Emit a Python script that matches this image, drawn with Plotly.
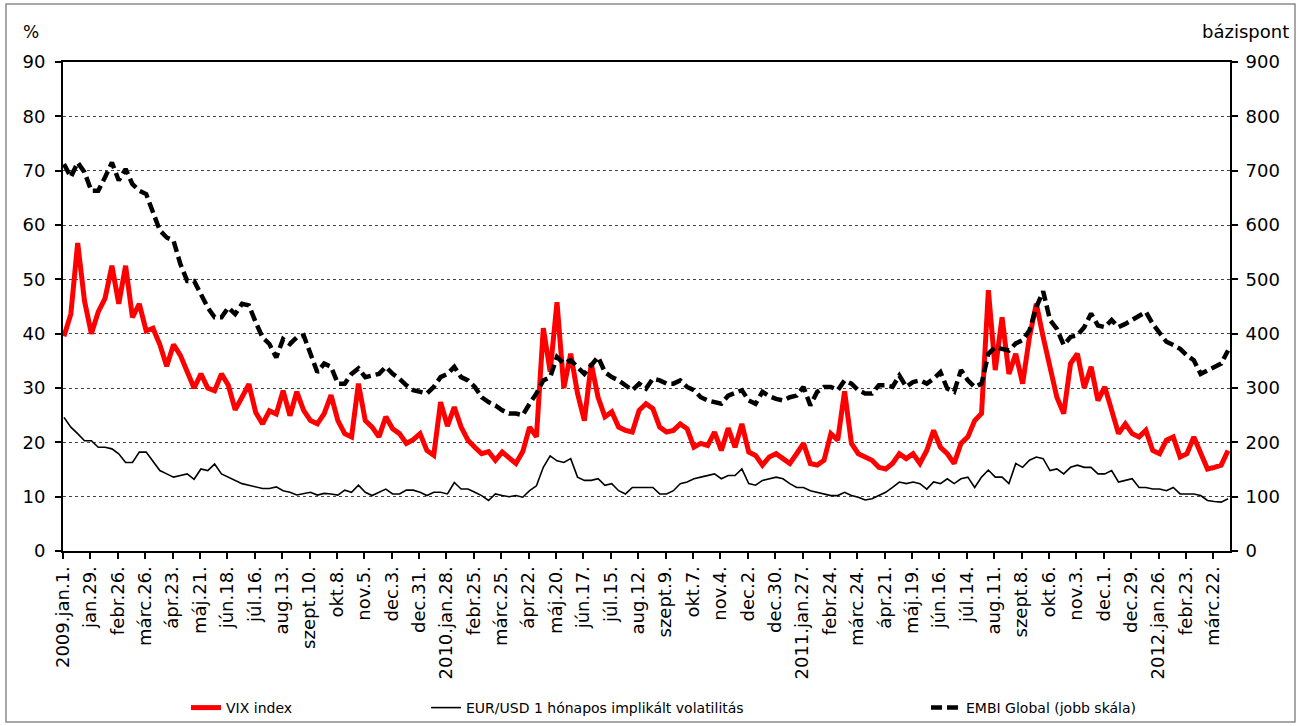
import pandas as pd
import plotly.graph_objects as go

# Weekly observations (Fridays), starting 2009-01-02
start_date = "2009-01-02"

vix_index = [
    39.5, 43.6, 56.7, 46.0, 40.0, 44.0, 46.5, 52.5, 45.5, 52.5,
    43.0, 45.5, 40.5, 41.0, 38.0, 34.0, 38.0, 36.0, 33.0, 30.0,
    32.6, 30.0, 29.5, 32.6, 30.5, 26.0, 28.3, 30.7, 25.5, 23.4,
    25.8, 25.2, 29.5, 24.9, 29.3, 25.9, 24.0, 23.4, 25.3, 28.7,
    24.0, 21.6, 21.0, 30.8, 24.0, 22.8, 21.0, 24.7, 22.5, 21.6,
    19.8, 20.5, 21.6, 18.5, 17.6, 27.4, 23.0, 26.5, 22.8, 20.4,
    19.1, 17.9, 18.3, 16.7, 18.2, 17.0, 16.1, 18.3, 22.8, 21.0,
    41.0, 33.0, 45.8, 30.0, 36.3, 29.0, 24.0, 34.5, 28.3, 24.7,
    25.6, 22.8, 22.2, 21.9, 25.9, 27.1, 26.2, 22.8, 21.9, 22.2,
    23.4, 22.5, 19.1, 19.8, 19.4, 21.9, 18.5, 22.6, 19.1, 23.4,
    18.2, 17.6, 15.8, 17.3, 17.9, 17.0, 16.1, 17.9, 19.8, 16.1,
    15.8, 16.7, 21.6, 20.4, 29.4, 19.8, 17.9, 17.3, 16.7, 15.4,
    15.1, 16.1, 17.9, 17.0, 17.9, 16.1, 18.5, 22.2, 19.1, 17.9,
    16.1, 19.8, 21.0, 24.0, 25.3, 48.0, 33.3, 43.0, 32.6, 36.3,
    30.8, 39.4, 45.5, 39.4, 33.3, 28.3, 25.3, 34.5, 36.3, 30.0,
    33.9, 27.7, 30.2, 25.9, 21.6, 23.4, 21.6, 21.0, 22.2, 18.5,
    17.9, 20.4, 21.0, 17.3, 17.9, 21.0, 17.9, 15.1, 15.4, 15.8,
    18.5,
]

eurusd_implied_vol = [
    24.6, 22.8, 21.6, 20.3, 20.3, 19.1, 19.1, 18.8, 17.9, 16.3,
    16.3, 18.2, 18.2, 16.6, 14.8, 14.2, 13.6, 13.9, 14.2, 13.2,
    15.1, 14.8, 16.0, 14.2, 13.6, 13.0, 12.4, 12.1, 11.8, 11.5,
    11.5, 11.8, 11.1, 10.8, 10.3, 10.5, 10.8, 10.3, 10.6, 10.5,
    10.3, 11.2, 10.8, 12.1, 10.8, 10.2, 10.8, 11.4, 10.5, 10.5,
    11.2, 11.2, 10.8, 10.2, 10.8, 10.8, 10.5, 12.6, 11.4, 11.4,
    10.8, 10.2, 9.3, 10.5, 10.2, 10.0, 10.2, 9.9, 11.1, 12.0,
    15.4, 17.5, 16.6, 16.3, 17.0, 13.6, 13.0, 13.0, 13.3, 12.1,
    12.4, 11.1, 10.5, 11.7, 11.7, 11.7, 11.7, 10.5, 10.5, 11.1,
    12.4, 12.7, 13.3, 13.6, 13.9, 14.2, 13.3, 13.9, 13.9, 15.1,
    12.4, 12.1, 13.0, 13.3, 13.6, 13.3, 12.4, 11.7, 11.7, 11.1,
    10.8, 10.5, 10.2, 10.2, 10.8, 10.2, 9.9, 9.4, 9.6, 10.2,
    10.8, 11.7, 12.7, 12.4, 12.7, 12.4, 11.4, 12.7, 12.4, 13.3,
    12.4, 13.3, 13.6, 11.7, 13.6, 14.9, 13.6, 13.6, 12.4, 16.1,
    15.4, 16.7, 17.3, 17.0, 14.8, 15.1, 14.2, 15.4, 15.8, 15.4,
    15.4, 14.2, 14.2, 14.8, 12.7, 13.0, 13.3, 11.7, 11.7, 11.4,
    11.4, 11.1, 11.7, 10.5, 10.5, 10.5, 10.2, 9.3, 9.1, 9.0,
    9.6,
]

embi_global_bp = [
    712, 688, 715, 697, 663, 663, 688, 715, 682, 703,
    675, 663, 657, 626, 590, 577, 571, 528, 497, 497,
    473, 448, 430, 430, 448, 436, 455, 452, 421, 393,
    381, 356, 390, 381, 393, 397, 363, 329, 345, 339,
    308, 308, 326, 336, 320, 323, 326, 339, 326, 317,
    305, 296, 293, 290, 302, 320, 326, 339, 320, 314,
    302, 283, 274, 268, 259, 253, 253, 250, 271, 290,
    314, 320, 357, 345, 351, 339, 326, 342, 357, 329,
    320, 314, 305, 296, 308, 299, 317, 314, 308, 308,
    314, 302, 296, 283, 277, 274, 271, 286, 290, 296,
    277, 271, 293, 285, 280, 277, 283, 286, 302, 268,
    293, 302, 302, 296, 314, 308, 296, 290, 290, 305,
    305, 302, 323, 302, 311, 314, 308, 317, 329, 299,
    293, 333, 314, 302, 308, 363, 375, 372, 369, 382,
    388, 406, 449, 478, 425, 409, 379, 394, 397, 412,
    437, 415, 412, 425, 412, 418, 425, 434, 440, 418,
    400, 385, 379, 372, 360, 351, 326, 333, 339, 345,
    369,
]

tick_labels = [
    "2009.jan.1.", "jan.29.", "febr.26.", "márc.26.", "ápr.23.", "máj.21.",
    "jún.18.", "júl.16.", "aug.13.", "szept.10.", "okt.8.", "nov.5.",
    "dec.3.", "dec.31.", "2010.jan.28.", "febr.25.", "márc.25.", "ápr.22.",
    "máj.20.", "jún.17.", "júl.15.", "aug.12.", "szept.9.", "okt.7.",
    "nov.4.", "dec.2.", "dec.30.", "2011.jan.27.", "febr.24.", "márc.24.",
    "ápr.21.", "máj.19.", "jún.16.", "júl.14.", "aug.11.", "szept.8.",
    "okt.6.", "nov.3.", "dec.1.", "dec.29.", "2012.jan.26.", "febr.23.",
    "márc.22.",
]

dates = pd.date_range(start_date, periods=len(vix_index), freq="7D")
tick_vals = pd.date_range("2009-01-01", periods=len(tick_labels), freq="28D")

FONT = "DejaVu Sans"

fig = go.Figure()

fig.add_trace(go.Scatter(
    x=dates, y=vix_index, mode="lines", name="VIX index",
    line=dict(color="#ff0000", width=5), legend="legend", showlegend=True,
))
fig.add_trace(go.Scatter(
    x=dates, y=eurusd_implied_vol, mode="lines",
    name="EUR/USD 1 hónapos implikált volatilitás",
    line=dict(color="#000000", width=1.6), legend="legend2", showlegend=True,
))
fig.add_trace(go.Scatter(
    x=dates, y=embi_global_bp, mode="lines", name="EMBI Global (jobb skála)",
    line=dict(color="#000000", width=4.5, dash="11px,5px"),
    yaxis="y2", legend="legend3", showlegend=True,
))

# Plot area in pixels: left 63, right 1230, top 62, bottom 551
L, R, T, B = 63, 1230, 62, 551
W, H = 1300, 726
pw, ph = R - L, B - T


def px_x(px):
    return (px - L) / pw


def px_y(py):
    return (B - py) / ph


legend_common = dict(
    orientation="h", yanchor="middle", xanchor="left",
    font=dict(family=FONT, size=14, color="#000000"),
    bgcolor="rgba(0,0,0,0)", borderwidth=0,
)

fig.update_layout(
    width=W, height=H,
    margin=dict(l=L, r=W - R, t=T, b=H - B, autoexpand=False),
    paper_bgcolor="#ffffff", plot_bgcolor="#ffffff",
    font=dict(family=FONT, size=18, color="#000000"),
    showlegend=True,
    legend=dict(x=px_x(186), y=px_y(708), **legend_common),
    legend2=dict(x=px_x(426), y=px_y(708), **legend_common),
    legend3=dict(x=px_x(926), y=px_y(708), **legend_common),
    xaxis=dict(
        type="date",
        range=["2009-01-01", "2012-04-08"],
        tickmode="array", tickvals=tick_vals, ticktext=tick_labels,
        tickangle=-90, ticks="outside", ticklen=6, tickwidth=1.5,
        tickcolor="#000000",
        tickfont=dict(family=FONT, size=18, color="#000000"),
        showline=True, linecolor="#000000", linewidth=2, mirror=True,
        showgrid=False, zeroline=False, automargin=False,
    ),
    yaxis=dict(
        range=[0, 90], dtick=10, tick0=0,
        ticks="outside", ticklen=6, tickwidth=1.5, tickcolor="#000000",
        tickfont=dict(family=FONT, size=18, color="#000000"),
        ticklabelstandoff=6,
        showline=True, linecolor="#000000", linewidth=2,
        showgrid=True, gridcolor="#444444", griddash="dot", gridwidth=1,
        zeroline=False, automargin=False,
    ),
    yaxis2=dict(
        range=[0, 900], dtick=100, tick0=0, overlaying="y", side="right",
        ticks="outside", ticklen=6, tickwidth=1.5, tickcolor="#000000",
        tickfont=dict(family=FONT, size=18, color="#000000"),
        ticklabelstandoff=4,
        showline=True, linecolor="#000000", linewidth=2,
        showgrid=False, zeroline=False, automargin=False,
    ),
    annotations=[
        dict(text="%", xref="paper", yref="paper", x=px_x(31), y=px_y(32),
             xanchor="center", yanchor="middle", showarrow=False,
             font=dict(family=FONT, size=17, color="#000000")),
        dict(text="bázispont", xref="paper", yref="paper", x=px_x(1291),
             y=px_y(32), xanchor="right", yanchor="middle", showarrow=False,
             font=dict(family=FONT, size=18, color="#000000")),
    ],
    shapes=[
        dict(type="rect", xref="paper", yref="paper",
             x0=px_x(6), x1=px_x(1295), y0=px_y(722), y1=px_y(4),
             line=dict(color="#8c8c8c", width=1.5), fillcolor="rgba(0,0,0,0)",
             layer="below"),
    ],
)

fig.write_html("out.html")
